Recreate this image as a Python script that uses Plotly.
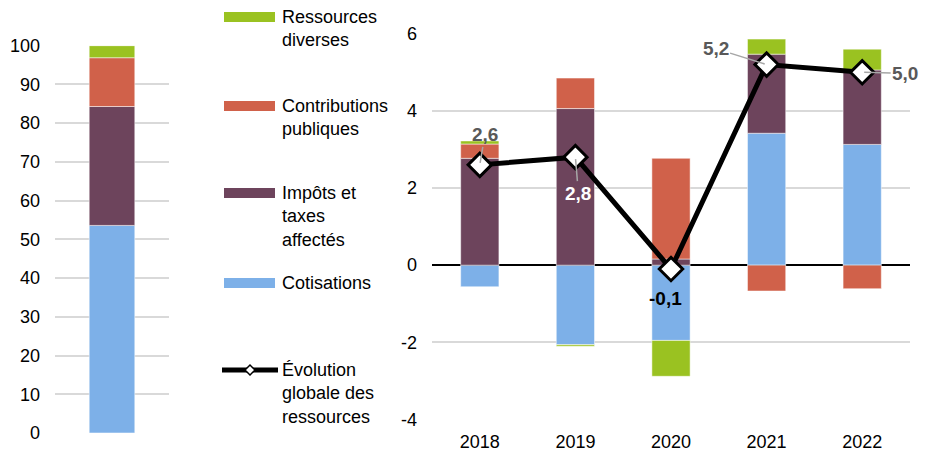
import plotly.graph_objects as go

W, H = 929, 451

# structure (left bar, %)
structure_cats = ['Cotisations', 'Impôts et taxes affectés', 'Contributions publiques', 'Ressources diverses']
structure_vals = [53.6, 30.7, 12.6, 3.1]

# contributions to growth (right chart, points)
years = ['2018', '2019', '2020', '2021', '2022']
cotisations = [-0.56, -2.06, -1.95, 3.42, 3.13]
impots = [2.77, 4.06, 0.16, 2.05, 1.93]
contributions = [0.37, 0.79, 2.61, -0.67, -0.61]
diverses = [0.08, -0.04, -0.93, 0.39, 0.54]
evolution = [2.6, 2.8, -0.1, 5.2, 5.0]
evolution_labels = ['2,6', '2,8', '-0,1', '5,2', '5,0']

right_ticks = [-4, -2, 0, 2, 4, 6]
right_ticktext = ['-4', '-2', '0', '2', '4', '6']

colors = ['#7DB0E8', '#6D445C', '#D0614A', '#9AC221']
series = [cotisations, impots, contributions, diverses]

FONT = 'Liberation Sans, Arial, sans-serif'
GRID = '#D9D9D9'


def px_x(x):
    return x / W


def px_y(y):
    return 1 - y / H


fig = go.Figure()

# left stacked bar
for name, val, col in zip(structure_cats, structure_vals, colors):
    fig.add_trace(go.Bar(x=['Structure'], y=[val], name=name, marker_color=col,
                         marker_line=dict(color='white', width=0.5),
                         width=0.4, showlegend=False, xaxis='x', yaxis='y'))

# right stacked bars
for name, vals, col in zip(structure_cats, series, colors):
    fig.add_trace(go.Bar(x=years, y=vals, name=name, marker_color=col,
                         marker_line=dict(color='white', width=0.5),
                         width=0.4, showlegend=False, xaxis='x2', yaxis='y2'))

fig.add_trace(go.Scatter(x=years, y=evolution, mode='lines+markers',
                         line=dict(color='black', width=5),
                         marker=dict(symbol='diamond', size=18, color='white',
                                     line=dict(color='black', width=3)),
                         showlegend=False, xaxis='x2', yaxis='y2'))

# point labels (offsets in px, colour, leader line)
label_style = [
    dict(ax=5, ay=-30, color='#595959', arrow=True),
    dict(ax=3, ay=36, color='white', arrow=True),
    dict(ax=-6, ay=29, color='black', arrow=False),
    dict(ax=-51, ay=-16, color='#595959', arrow=True),
    dict(ax=43, ay=1, color='#595959', arrow=True),
]
annotations = []
for i, (v, txt, st) in enumerate(zip(evolution, evolution_labels, label_style)):
    a = dict(x=i, y=v, xref='x2', yref='y2', text='<b>%s</b>' % txt,
             font=dict(family=FONT, size=19, color=st['color']))
    if st['arrow']:
        a.update(showarrow=True, ax=st['ax'], ay=st['ay'], arrowhead=0,
                 arrowwidth=1.5, arrowcolor='#A6A6A6', standoff=2)
    else:
        a.update(showarrow=False, xshift=st['ax'], yshift=-st['ay'])
    annotations.append(a)

# hand-made legend in the middle column
legend_items = [
    ('Ressources<br>diverses', colors[3], 17),
    ('Contributions<br>publiques', colors[2], 106),
    ('Impôts et<br>taxes<br>affectés', colors[1], 193),
    ('Cotisations', colors[0], 283),
]
shapes = []
for txt, col, yc in legend_items:
    shapes.append(dict(type='rect', xref='paper', yref='paper',
                       x0=px_x(224), x1=px_x(275), y0=px_y(yc - 5), y1=px_y(yc + 5),
                       fillcolor=col, line=dict(width=0)))
    annotations.append(dict(x=px_x(280), y=px_y(yc - 12), xref='paper', yref='paper',
                            xanchor='left', yanchor='top', align='left', showarrow=False,
                            text=txt, font=dict(family=FONT, size=18, color='black')))

line_y = 370
shapes.append(dict(type='line', xref='paper', yref='paper',
                   x0=px_x(222), x1=px_x(278), y0=px_y(line_y), y1=px_y(line_y),
                   line=dict(color='black', width=5)))
cx, cy, r = 250, line_y, 5
shapes.append(dict(type='path', xref='paper', yref='paper',
                   path='M %f %f L %f %f L %f %f L %f %f Z' % (
                       px_x(cx - r), px_y(cy), px_x(cx), px_y(cy - r),
                       px_x(cx + r), px_y(cy), px_x(cx), px_y(cy + r)),
                   fillcolor='white', line=dict(color='black', width=1.5)))
annotations.append(dict(x=px_x(280), y=px_y(line_y - 12), xref='paper', yref='paper',
                        xanchor='left', yanchor='top', align='left', showarrow=False,
                        text='Évolution<br>globale des<br>ressources',
                        font=dict(family=FONT, size=18, color='black')))

fig.update_layout(
    width=W, height=H,
    margin=dict(l=0, r=0, t=0, b=0),
    paper_bgcolor='white', plot_bgcolor='white',
    barmode='relative', bargap=0.6,
    font=dict(family=FONT, size=18, color='black'),
    xaxis=dict(domain=[px_x(55), px_x(169)], type='category', range=[-0.5, 0.5],
               showticklabels=False, showgrid=False, zeroline=False,
               automargin=False, anchor='y'),
    yaxis=dict(domain=[px_y(433), px_y(45.7)], range=[0, 100], dtick=10,
               gridcolor=GRID, gridwidth=1.5, zeroline=False, showline=False,
               ticklabelstandoff=14, automargin=False, anchor='x',
               tickfont=dict(family=FONT, size=18, color='black')),
    xaxis2=dict(domain=[px_x(432), px_x(910)], type='category', categoryorder='array',
                categoryarray=years, range=[-0.5, len(years) - 0.5], showgrid=False,
                zeroline=False, ticks='', ticklabelstandoff=9, automargin=False,
                anchor='y2', tickfont=dict(family=FONT, size=18, color='black')),
    yaxis2=dict(domain=[px_y(419.5), px_y(33.7)], range=[-4, 6],
                tickvals=right_ticks, ticktext=right_ticktext,
                gridcolor=GRID, gridwidth=1.5, zeroline=True, zerolinecolor='black',
                zerolinewidth=1.5, showline=False, ticklabelstandoff=14,
                automargin=False, anchor='x2',
                tickfont=dict(family=FONT, size=18, color='black')),
    shapes=shapes,
    annotations=annotations,
)

fig.write_html("out.html", config={'displayModeBar': False},
               post_script="document.body.style.margin='0';document.body.style.overflow='hidden';")
